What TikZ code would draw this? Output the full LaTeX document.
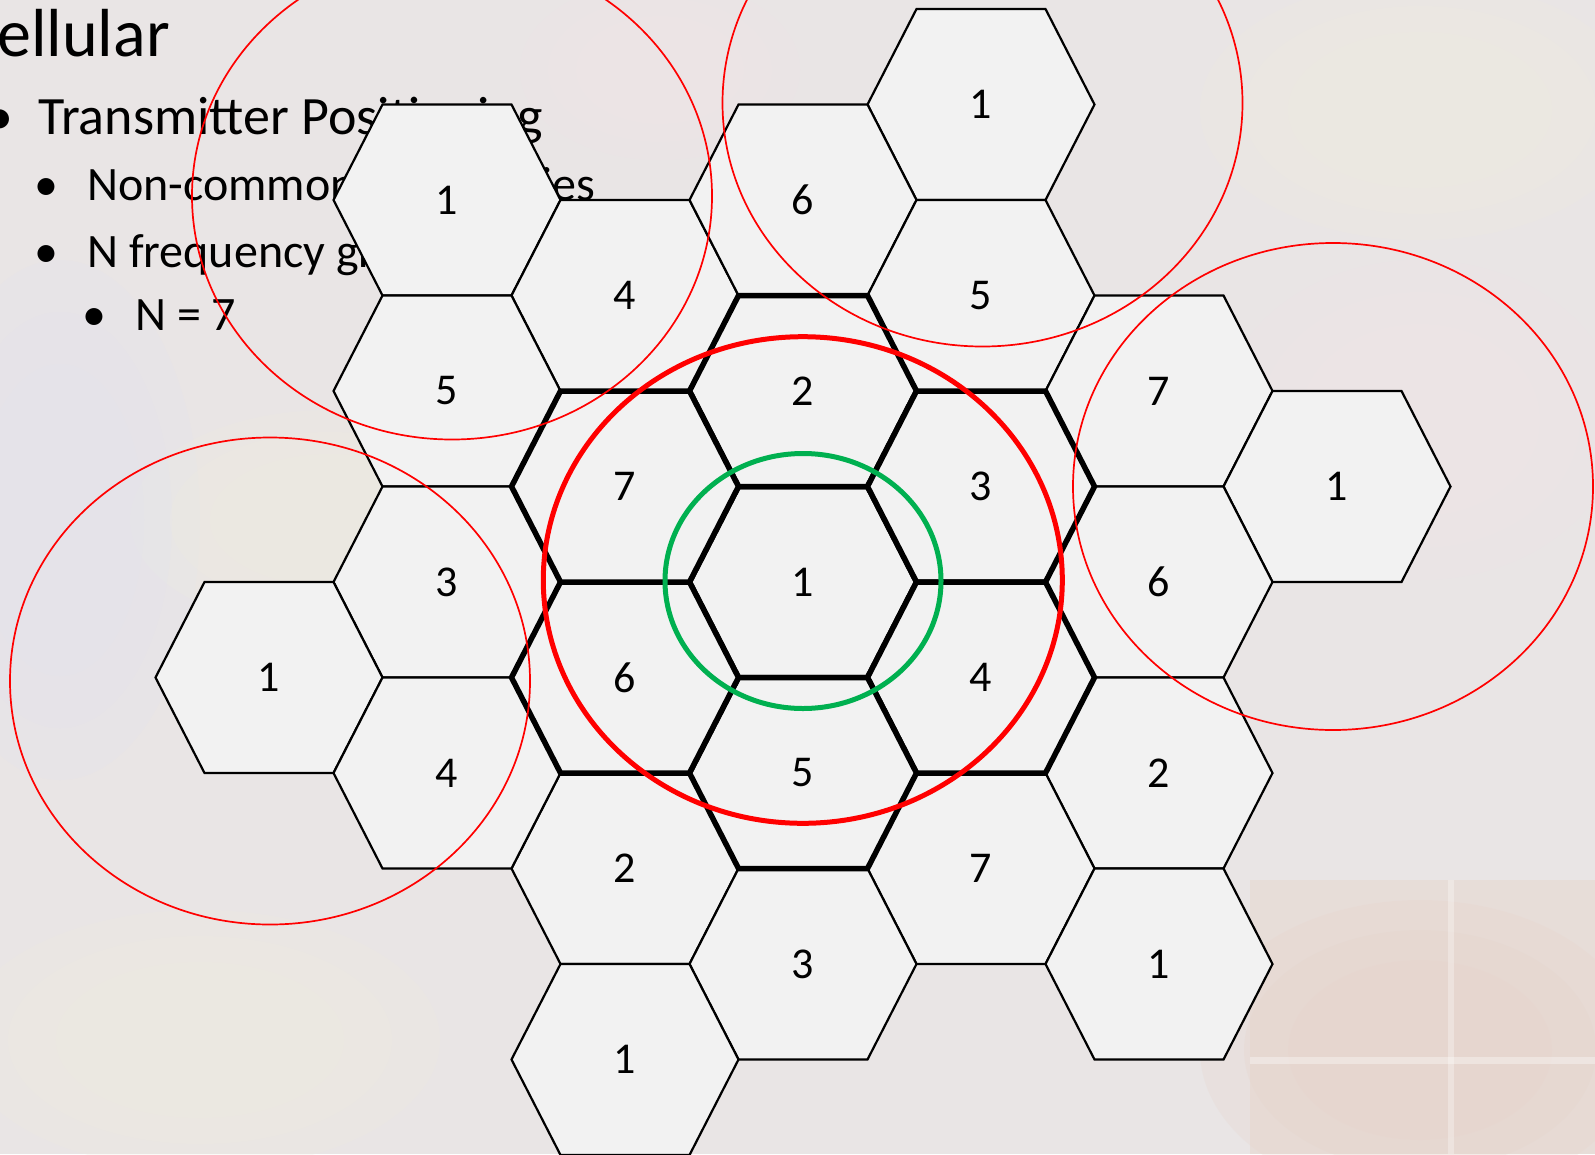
\documentclass[tikz,border=0pt]{standalone}
\usepackage{fontspec}
\setmainfont{Carlito}
\definecolor{bgbase}{RGB}{233,229,229}
\definecolor{bgpeach}{RGB}{230,212,202}
\definecolor{bglav}{RGB}{228,227,238}
\definecolor{bgyel}{RGB}{238,236,224}
\definecolor{bgpink}{RGB}{240,228,231}
\definecolor{cellgrey}{RGB}{242,242,242}
\definecolor{greenring}{RGB}{0,176,80}
\newcommand\hexcell[5]{%
  \begin{scope}[shift={({178*(#2)},{95.5*(#3)})}]
    \path[#5] (-113.5,0) -- (-64.5,-95.5) -- (64.5,-95.5) -- (113.5,0)
      -- (64.5,95.5) -- (-64.5,95.5) -- cycle;
    \node[celltext] (#1) at (0,0) {#4};
  \end{scope}}
\begin{document}
\begin{tikzpicture}[x=1pt,y=-1pt,
  cellthin/.style={fill=cellgrey,draw=black,line width=2.2pt,line join=miter},
  cellthick/.style={fill=cellgrey,draw=black,line width=5.5pt,line join=miter},
  celltext/.style={font=\fontsize{44}{50}\selectfont,inner sep=0pt},
  bodytext/.style={inner sep=0pt,anchor=base west},
  bullettext/.style={inner sep=0pt,anchor=base},
  lvlone/.style={font=\fontsize{54}{62}\selectfont},
  lvltwo/.style={font=\fontsize{48}{56}\selectfont},
  reuse/.style={draw=red,line width=1.7pt},
  bigring/.style={draw=red,line width=5pt},
  smallring/.style={draw=greenring,line width=5pt},
  blob/.style={opacity=0.25}]
\useasboundingbox (0,0) rectangle (1595,1154);
% faded slide background
\fill[bgbase] (0,0) rectangle (1595,1154);
\foreach \r in {1,0.8,0.6} {
  \fill[bglav,blob] (60,520) ellipse [x radius=\r*140pt,y radius=\r*260pt];
  \fill[bgpink,blob] (660,70) ellipse [x radius=\r*140pt,y radius=\r*90pt];
  \fill[bgyel,blob] (1420,110) ellipse [x radius=\r*220pt,y radius=\r*130pt];
  \fill[bgpink,blob] (1420,420) ellipse [x radius=\r*200pt,y radius=\r*160pt];
  \fill[bgyel,blob] (330,520) ellipse [x radius=\r*200pt,y radius=\r*110pt];
  \fill[bgyel,blob] (200,1040) ellipse [x radius=\r*240pt,y radius=\r*130pt];
  \fill[bgpeach,blob] (1420,1050) ellipse [x radius=\r*220pt,y radius=\r*150pt];
}
\fill[bgpeach,opacity=0.45] (1250,880) rectangle (1595,1154);
\fill[white,opacity=0.35] (1250,1057) rectangle (1595,1064);
\fill[white,opacity=0.3] (1448,880) rectangle (1454,1154);
% slide text
\node[bodytext,font=\fontsize{68}{74}\selectfont] (title) at (-3,56.5) {ellular};
\node[bullettext,lvlone] (b1) at (0,134.5) {•};
\node[bodytext,lvlone] (t1) at (38,134.5) {Transmitter Positioning};
\node[bullettext,lvltwo] (b2) at (46,200.5) {•};
\node[bodytext,lvltwo] (t2) at (87,200.5) {Non-common frequencies};
\node[bullettext,lvltwo] (b3) at (46,267) {•};
\node[bodytext,lvltwo] (t3) at (87,267) {N frequency groups};
\node[bullettext,lvltwo] (b4) at (94,330) {•};
\node[bodytext,lvltwo] (t4) at (135,330) {N = 7};
% cells
\begin{scope}[shift={(803,582)}]
  \hexcell{tlA}{-2}{-4}{1}{cellthin}
  \hexcell{tlB}{-1}{-3}{4}{cellthin}
  \hexcell{tlC}{-2}{-2}{5}{cellthin}
  \hexcell{tA}{1}{-5}{1}{cellthin}
  \hexcell{tB}{0}{-4}{6}{cellthin}
  \hexcell{tC}{1}{-3}{5}{cellthin}
  \hexcell{rA}{2}{-2}{7}{cellthin}
  \hexcell{rB}{3}{-1}{1}{cellthin}
  \hexcell{rC}{2}{0}{6}{cellthin}
  \hexcell{brA}{2}{2}{2}{cellthin}
  \hexcell{brB}{1}{3}{7}{cellthin}
  \hexcell{brC}{2}{4}{1}{cellthin}
  \hexcell{bA}{-1}{3}{2}{cellthin}
  \hexcell{bB}{0}{4}{3}{cellthin}
  \hexcell{bC}{-1}{5}{1}{cellthin}
  \hexcell{lA}{-2}{0}{3}{cellthin}
  \hexcell{lB}{-3}{1}{1}{cellthin}
  \hexcell{lC}{-2}{2}{4}{cellthin}
  \hexcell{cA}{0}{0}{1}{cellthick}
  \hexcell{cB}{0}{-2}{2}{cellthick}
  \hexcell{cC}{1}{-1}{3}{cellthick}
  \hexcell{cD}{1}{1}{4}{cellthick}
  \hexcell{cE}{0}{2}{5}{cellthick}
  \hexcell{cF}{-1}{1}{6}{cellthick}
  \hexcell{cG}{-1}{-1}{7}{cellthick}
\end{scope}
% reuse distance rings
\draw[reuse] (452,196) ellipse [x radius=260pt,y radius=243.5pt];
\draw[reuse] (982.5,103) ellipse [x radius=260pt,y radius=243.5pt];
\draw[reuse] (1333,486.5) ellipse [x radius=260pt,y radius=243.5pt];
\draw[reuse] (270,681) ellipse [x radius=260pt,y radius=243.5pt];
\draw[bigring] (802.8,580) ellipse [x radius=259.5pt,y radius=243.3pt];
\draw[smallring] (803,581) ellipse [x radius=138pt,y radius=127.5pt];
\end{tikzpicture}
\end{document}
